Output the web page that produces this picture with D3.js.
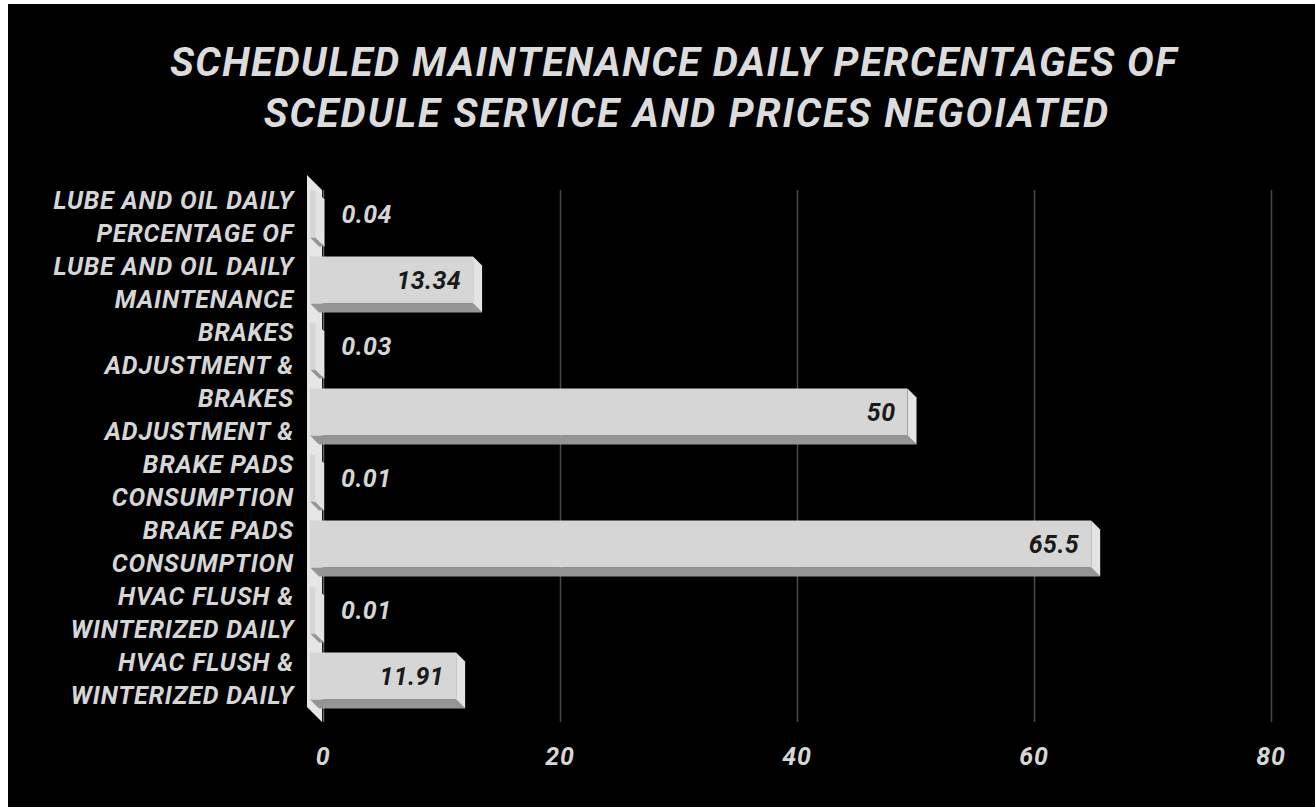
<!DOCTYPE html>
<html>
<head>
<meta charset="utf-8">
<script src="https://cdn.jsdelivr.net/npm/d3@7"></script>
<style>
  body { margin: 0; background: #fff; }
  text { font-family: Roboto, "Noto Sans", sans-serif; font-weight: 700; font-style: italic; }
</style>
</head>
<body>
<div id="wrapper"></div>
<script>
// data
const titleLines = ["SCHEDULED MAINTENANCE DAILY PERCENTAGES OF", "SCEDULE SERVICE AND PRICES NEGOIATED"]
const categories = [
  ["LUBE AND OIL DAILY", "PERCENTAGE OF"],
  ["LUBE AND OIL DAILY", "MAINTENANCE"],
  ["BRAKES", "ADJUSTMENT &"],
  ["BRAKES", "ADJUSTMENT &"],
  ["BRAKE PADS", "CONSUMPTION"],
  ["BRAKE PADS", "CONSUMPTION"],
  ["HVAC FLUSH &", "WINTERIZED DAILY"],
  ["HVAC FLUSH &", "WINTERIZED DAILY"],
]
const values = [0.04, 13.34, 0.03, 50, 0.01, 65.5, 0.01, 11.91]
const valueLabels = ["0.04", "13.34", "0.03", "50", "0.01", "65.5", "0.01", "11.91"]
const xTicks = [0, 20, 40, 60, 80]

const dimensions = { width: 1315, height: 807 }
const depth = 9        // bar extrusion
const wallDepth = 15

const svg = d3.select("#wrapper").append("svg")
  .attr("width", dimensions.width)
  .attr("height", dimensions.height)

svg.append("rect")
  .attr("x", 8).attr("y", 4)
  .attr("width", dimensions.width - 8).attr("height", dimensions.height - 4)
  .attr("fill", "#000")

// title
svg.append("g").selectAll("text")
  .data(titleLines)
  .join("text")
    .attr("x", (d, i) => i === 0 ? 674 : 687)
    .attr("y", (d, i) => 76 + i * 51)
    .attr("text-anchor", "middle")
    .attr("fill", "#dcdcdc")
    .style("font-size", "40px")
    .style("letter-spacing", (d, i) => i === 0 ? "1.5px" : "1.9px")
    .text(d => d)

// scales (x is the back plane, y is the front plane)
const xScale = d3.scaleLinear().domain([0, 80]).range([324, 1272])
const yScale = d3.scaleBand()
  .domain(d3.range(values.length))
  .range([181, 709])
  .paddingInner(0.288)
  .paddingOuter(0.144)

// gridlines
svg.append("g").selectAll("line")
  .data(xTicks)
  .join("line")
    .attr("x1", d => xScale(d) - 0.5).attr("x2", d => xScale(d) - 0.5)
    .attr("y1", 190).attr("y2", 722)
    .attr("stroke", d => d === 0 ? "#666" : "#4a4a4a")
    .attr("stroke-width", 1.5)

// side wall
const wallX = xScale(0) - 2 - wallDepth
svg.append("path")
  .attr("d", `M${wallX},175 L${wallX + wallDepth},190 L${wallX + wallDepth},722 L${wallX},707 Z`)
  .attr("fill", "#e6e6e6")

// bars
const x0 = xScale(0) - 14
const bars = svg.append("g").selectAll("g")
  .data(values)
  .join("g")

bars.each(function (v, i) {
  const g = d3.select(this)
  const top = yScale(i)
  const bottom = top + yScale.bandwidth()
  const right = Math.max(xScale(v) - depth, x0 + 0.5)
  g.append("path")
    .attr("d", `M${x0},${bottom} L${right},${bottom} L${right + depth},${bottom + depth} L${x0 + depth},${bottom + depth} Z`)
    .attr("fill", "#959595")
  g.append("path")
    .attr("d", `M${right},${top} L${right + depth},${top + depth} L${right + depth},${bottom + depth} L${right},${bottom} Z`)
    .attr("fill", "#e3e3e3")
  g.append("rect")
    .attr("x", x0).attr("y", top)
    .attr("width", right - x0).attr("height", yScale.bandwidth())
    .attr("fill", "#d6d6d6")
})

// value labels
svg.append("g").selectAll("text")
  .data(values)
  .join("text")
    .attr("x", d => d > 5 ? xScale(d) - depth - 12 : xScale(d) + 17)
    .attr("y", (d, i) => yScale(i) + yScale.bandwidth() / 2 + 9)
    .attr("text-anchor", d => d > 5 ? "end" : "start")
    .attr("fill", d => d > 5 ? "#1a1a1a" : "#d6d6d6")
    .style("font-size", "25px")
    .style("letter-spacing", "0.4px")
    .text((d, i) => valueLabels[i])

// category labels
const cat = svg.append("g").selectAll("text")
  .data(categories)
  .join("text")
    .attr("text-anchor", "end")
    .attr("fill", "#d6d6d6")
    .style("font-size", "25px")
    .style("letter-spacing", "0.8px")

cat.selectAll("tspan")
  .data((d, i) => d.map((line, j) => ({ line, j, i })))
  .join("tspan")
    .attr("x", 294)
    .attr("y", d => yScale(d.i) + yScale.bandwidth() / 2 + 2.7 + (d.j === 0 ? -16.3 : 16.3) + 8.8)
    .text(d => d.line)

// x axis labels
svg.append("g").selectAll("text")
  .data(xTicks)
  .join("text")
    .attr("x", d => xScale(d) - 1)
    .attr("y", 765)
    .attr("text-anchor", "middle")
    .attr("fill", "#d6d6d6")
    .style("font-size", "25px")
    .style("letter-spacing", "0.8px")
    .text(d => d)
</script>
</body>
</html>
